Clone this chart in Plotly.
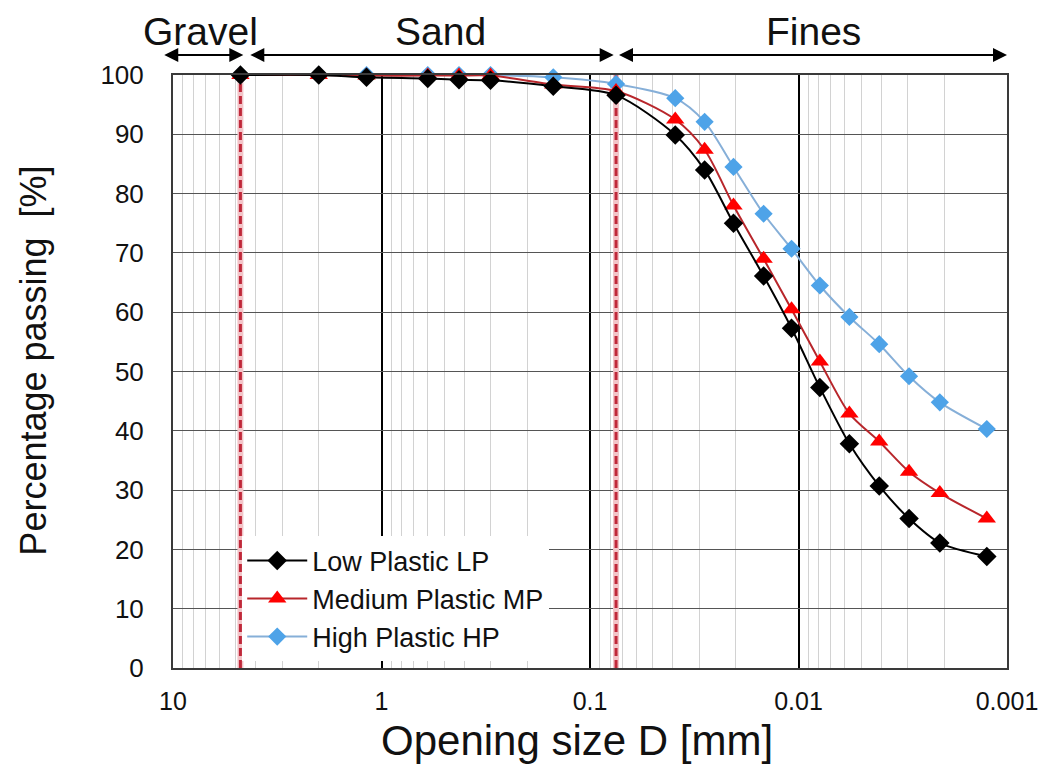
import numpy as np
import plotly.graph_objects as go

# ---- data ----
sieve_mm = [4.75, 2.0, 1.18, 0.6, 0.425, 0.3, 0.15, 0.075]
hydro_mm = [0.039, 0.0282, 0.0205, 0.0147, 0.0108, 0.0079, 0.0057, 0.0041, 0.00295, 0.0021, 0.00125]
size_mm = sieve_mm + hydro_mm

lp_pass = [100, 100, 99.6, 99.4, 99.2, 99.1, 98.1, 96.6,
           89.9, 84.0, 75.0, 66.1, 57.3, 47.3, 37.8, 30.7, 25.2, 21.1, 18.8]
mp_pass = [100, 100, 99.9, 99.9, 99.9, 99.9, 98.4, 97.3,
           92.5, 87.4, 78.0, 69.0, 60.5, 51.7, 42.9, 38.2, 33.1, 29.5, 25.2]
hp_pass = [100, 100, 100, 100, 100, 100, 99.6, 98.5,
           96.1, 92.1, 84.5, 76.6, 70.7, 64.5, 59.2, 54.6, 49.2, 44.8, 40.3]

series_names = ["Low Plastic LP", "Medium Plastic MP", "High Plastic HP"]
boundaries_mm = [4.75, 0.075]          # gravel/sand and sand/fines limits
x_tickvals = [10, 1, 0.1, 0.01, 0.001]
x_ticktext = ["10", "1", "0.1", "0.01", "0.001"]
y_tickvals = list(range(0, 101, 10))
zone_labels = ["Gravel", "Sand", "Fines"]
zone_label_pos = [7.4, 0.52, 0.0085]
zone_arrows = [(11.2, 4.6), (4.33, 0.077), (0.0738, 0.001)]
x_title = "Opening size D [mm]"
y_title = "Percentage passing  [%]"

minor_vals = [m * 10.0 ** e for e in range(-3, 1) for m in range(2, 10)]

FONT = "Liberation Sans, Arial, sans-serif"

fig = go.Figure()

# sieve boundary lines (dashed red with pale halo)
for b in boundaries_mm:
    fig.add_trace(go.Scatter(x=[b, b], y=[0, 100], mode="lines",
                             line=dict(color="#f2c4c8", width=6),
                             showlegend=False, hoverinfo="skip"))
    fig.add_trace(go.Scatter(x=[b, b], y=[0, 100], mode="lines",
                             line=dict(color="#c0283a", width=3, dash="8px,4px"),
                             showlegend=False, hoverinfo="skip"))

fig.add_trace(go.Scatter(x=size_mm, y=hp_pass, name=series_names[2], mode="lines+markers",
                         line=dict(color="#86afd8", width=2, shape="spline", smoothing=0.8),
                         marker=dict(symbol="diamond", size=14, color="#4ea3e8"),
                         cliponaxis=False, legendrank=3))
fig.add_trace(go.Scatter(x=size_mm, y=mp_pass, name=series_names[1], mode="lines+markers",
                         line=dict(color="#b8262b", width=2, shape="spline", smoothing=0.8),
                         marker=dict(symbol="triangle-up", size=16, color="#ff0000"),
                         cliponaxis=False, legendrank=2))
fig.add_trace(go.Scatter(x=size_mm, y=lp_pass, name=series_names[0], mode="lines+markers",
                         line=dict(color="#000000", width=2, shape="spline", smoothing=0.8),
                         marker=dict(symbol="diamond", size=15, color="#000000"),
                         cliponaxis=False, legendrank=1))

annotations = []
for (a, b) in zone_arrows:
    annotations.append(dict(x=np.log10(b), ax=np.log10(a), xref="x", axref="x",
                            y=1.0337, yref="paper", ay=0, ayref="pixel",
                            text="", showarrow=True, arrowhead=2, arrowsize=1.4,
                            arrowwidth=2, arrowcolor="#000000", arrowside="end+start"))
for lab, pos in zip(zone_labels, zone_label_pos):
    annotations.append(dict(x=np.log10(pos), xref="x", y=1.074, yref="paper",
                            text=lab, showarrow=False, xanchor="center", yanchor="middle",
                            font=dict(family=FONT, size=39, color="#111111")))
# axis titles
annotations.append(dict(x=-0.1669, y=0.518, xref="paper", yref="paper",
                        text=y_title, textangle=-90, showarrow=False,
                        xanchor="center", yanchor="middle",
                        font=dict(family=FONT, size=36, color="#111111")))
annotations.append(dict(x=0.484, y=-0.123, xref="paper", yref="paper",
                        text=x_title, showarrow=False,
                        xanchor="center", yanchor="middle",
                        font=dict(family=FONT, size=42, color="#111111")))

fig.update_layout(
    width=1050, height=768,
    margin=dict(l=173, r=38, t=75, b=100),
    paper_bgcolor="white", plot_bgcolor="white",
    font=dict(family=FONT, color="#111111"),
    showlegend=True,
    legend=dict(x=0.083, y=0.222, xanchor="left", yanchor="top",
                bgcolor="white", borderwidth=0, itemwidth=60,
                font=dict(family=FONT, size=27, color="#111111"),
                tracegroupgap=0),
    annotations=annotations,
)

fig.update_xaxes(
    type="log", range=[1, -3],
    tickmode="array", tickvals=x_tickvals, ticktext=x_ticktext,
    showgrid=True, gridcolor="#000000", gridwidth=2,
    minor=dict(tickmode="array", tickvals=minor_vals, showgrid=True,
               gridcolor="#d2d2d2", gridwidth=1, ticks=""),
    ticks="", ticklabelstandoff=10,
    tickfont=dict(family=FONT, size=25, color="#111111"),
    showline=True, linecolor="#3a3a3a", linewidth=2, mirror=True,
    zeroline=False,
)
fig.update_yaxes(
    range=[0, 100], tickmode="array", tickvals=y_tickvals,
    showgrid=True, gridcolor="#555555", gridwidth=1,
    ticks="", ticklabelstandoff=22,
    tickfont=dict(family=FONT, size=26, color="#111111"),
    showline=True, linecolor="#3a3a3a", linewidth=2, mirror=True,
    zeroline=False,
)

fig.write_html("out.html")
